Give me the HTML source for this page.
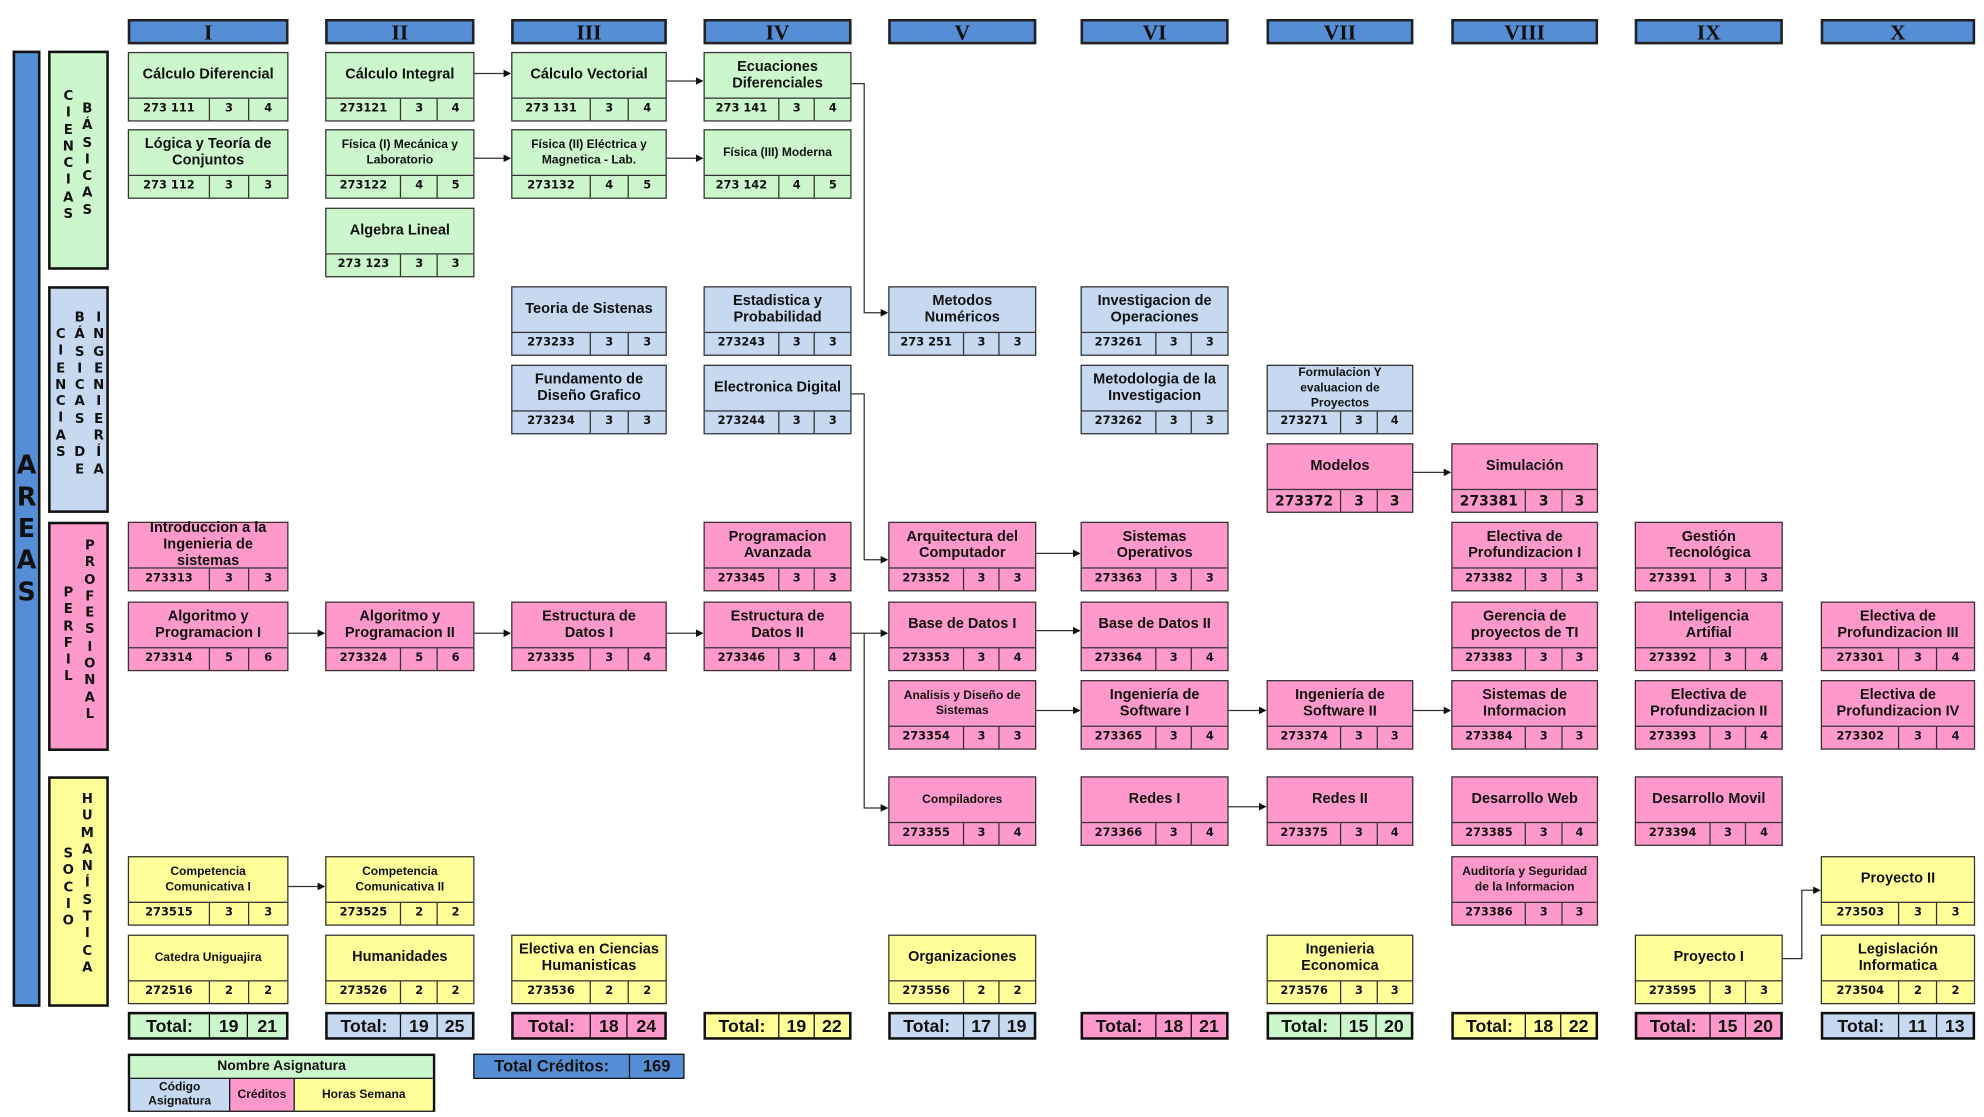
<!DOCTYPE html>
<html><head><meta charset="utf-8">
<style>
html,body{margin:0;padding:0;background:#fff;}
body{width:1984px;height:1117px;overflow:hidden;}
#w{position:absolute;left:0;top:0;width:1568px;height:882px;transform:scale(1.2653,1.2664);transform-origin:0 0;font-family:"Liberation Sans",sans-serif;font-weight:bold;color:#111;}
.h{position:absolute;top:15px;height:20px;background:#558ed5;border:2px solid #222;box-sizing:border-box;text-align:center;font-family:"Liberation Serif",serif;font-size:17px;line-height:17px;color:#111;}
.b{position:absolute;height:55px;border:1px solid #333;box-sizing:border-box;}
.t{height:36px;display:flex;align-items:center;justify-content:center;text-align:center;border-bottom:1px solid #333;font-size:11.5px;line-height:13px;padding:0 2px;box-sizing:border-box;}
.t.s{font-size:9.5px;line-height:12px;}
.r{display:flex;height:17px;font-size:9px;line-height:17px;font-family:"DejaVu Sans",sans-serif;}
.r span{flex:1;text-align:center;border-left:1px solid #333;}
.r span:first-child{flex:2.1;border-left:none;}
.g{background:#ccf7cc}.bl{background:#c6d9f0}.p{background:#ff99cc}.y{background:#ffff99}
.tot{position:absolute;top:799px;height:22px;border:2px solid #111;box-sizing:border-box;display:flex;font-size:14px;line-height:18px;}
.tot span{flex:1;text-align:center;border-left:1px solid #111;}
.tot span:first-child{flex:2.1;border-left:none;}
.ar{position:absolute;border:2px solid #111;box-sizing:border-box;}
.v{position:absolute;font-family:"DejaVu Sans",sans-serif;font-weight:bold;font-size:10.5px;line-height:13.3px;text-align:center;width:12px;}
</style></head><body><div id="w">

<div class="h" style="left:101px;width:127px">I</div>
<div class="h" style="left:257px;width:118px">II</div>
<div class="h" style="left:404px;width:123px">III</div>
<div class="h" style="left:556px;width:117px">IV</div>
<div class="h" style="left:702px;width:117px">V</div>
<div class="h" style="left:854px;width:117px">VI</div>
<div class="h" style="left:1001px;width:116px">VII</div>
<div class="h" style="left:1147px;width:116px">VIII</div>
<div class="h" style="left:1292px;width:117px">IX</div>
<div class="h" style="left:1439px;width:122px">X</div>

<div class="ar" style="left:10px;top:40px;width:22px;height:755px;background:#558ed5"></div>
<div class="v" style="left:12px;top:355px;width:18px;font-size:20px;line-height:25px;">A<br>R<br>E<br>A<br>S</div>

<div class="ar g" style="left:38px;top:40px;width:48px;height:173px"></div>
<div class="v" style="left:48px;top:70px">C<br>I<br>E<br>N<br>C<br>I<br>A<br>S</div>
<div class="v" style="left:63px;top:80px">B<br>Á<br>S<br>I<br>C<br>A<br>S</div>

<div class="ar bl" style="left:38px;top:226px;width:48px;height:179px"></div>
<div class="v" style="left:42px;top:258px">C<br>I<br>E<br>N<br>C<br>I<br>A<br>S</div>
<div class="v" style="left:57px;top:245px">B<br>Á<br>S<br>I<br>C<br>A<br>S<br>&nbsp;<br>D<br>E</div>
<div class="v" style="left:72px;top:245px">I<br>N<br>G<br>E<br>N<br>I<br>E<br>R<br>Í<br>A</div>

<div class="ar p" style="left:38px;top:412px;width:48px;height:181px"></div>
<div class="v" style="left:48px;top:462px">P<br>E<br>R<br>F<br>I<br>L</div>
<div class="v" style="left:65px;top:425px">P<br>R<br>O<br>F<br>E<br>S<br>I<br>O<br>N<br>A<br>L</div>

<div class="ar y" style="left:38px;top:613px;width:48px;height:182px"></div>
<div class="v" style="left:48px;top:668px">S<br>O<br>C<br>I<br>O</div>
<div class="v" style="left:63px;top:625px">H<br>U<br>M<br>A<br>N<br>Í<br>S<br>T<br>I<br>C<br>A</div>

<div class="b g" style="left:101px;top:41px;width:127px"><div class="t">Cálculo Diferencial</div><div class="r"><span>273 111</span><span>3</span><span>4</span></div></div>
<div class="b g" style="left:101px;top:102px;width:127px"><div class="t">Lógica y Teoría de Conjuntos</div><div class="r"><span>273 112</span><span>3</span><span>3</span></div></div>
<div class="b p" style="left:101px;top:412px;width:127px"><div class="t">Introduccion a la Ingenieria de sistemas</div><div class="r"><span>273313</span><span>3</span><span>3</span></div></div>
<div class="b p" style="left:101px;top:475px;width:127px"><div class="t">Algoritmo y<br>Programacion I</div><div class="r"><span>273314</span><span>5</span><span>6</span></div></div>
<div class="b y" style="left:101px;top:676px;width:127px"><div class="t s">Competencia<br>Comunicativa I</div><div class="r"><span>273515</span><span>3</span><span>3</span></div></div>
<div class="b y" style="left:101px;top:738px;width:127px"><div class="t s">Catedra Uniguajira</div><div class="r"><span>272516</span><span>2</span><span>2</span></div></div>

<div class="b g" style="left:257px;top:41px;width:118px"><div class="t">Cálculo Integral</div><div class="r"><span>273121</span><span>3</span><span>4</span></div></div>
<div class="b g" style="left:257px;top:102px;width:118px"><div class="t s">Física (I) Mecánica y Laboratorio</div><div class="r"><span>273122</span><span>4</span><span>5</span></div></div>
<div class="b g" style="left:257px;top:164px;width:118px"><div class="t">Algebra Lineal</div><div class="r"><span>273 123</span><span>3</span><span>3</span></div></div>
<div class="b p" style="left:257px;top:475px;width:118px"><div class="t">Algoritmo y<br>Programacion II</div><div class="r"><span>273324</span><span>5</span><span>6</span></div></div>
<div class="b y" style="left:257px;top:676px;width:118px"><div class="t s">Competencia<br>Comunicativa II</div><div class="r"><span>273525</span><span>2</span><span>2</span></div></div>
<div class="b y" style="left:257px;top:738px;width:118px"><div class="t">Humanidades</div><div class="r"><span>273526</span><span>2</span><span>2</span></div></div>

<div class="b g" style="left:404px;top:41px;width:123px"><div class="t">Cálculo Vectorial</div><div class="r"><span>273 131</span><span>3</span><span>4</span></div></div>
<div class="b g" style="left:404px;top:102px;width:123px"><div class="t s">Física (II) Eléctrica y Magnetica - Lab.</div><div class="r"><span>273132</span><span>4</span><span>5</span></div></div>
<div class="b bl" style="left:404px;top:226px;width:123px"><div class="t">Teoria de Sistenas</div><div class="r"><span>273233</span><span>3</span><span>3</span></div></div>
<div class="b bl" style="left:404px;top:288px;width:123px"><div class="t">Fundamento de<br>Diseño Grafico</div><div class="r"><span>273234</span><span>3</span><span>3</span></div></div>
<div class="b p" style="left:404px;top:475px;width:123px"><div class="t">Estructura de<br>Datos I</div><div class="r"><span>273335</span><span>3</span><span>4</span></div></div>
<div class="b y" style="left:404px;top:738px;width:123px"><div class="t">Electiva en Ciencias Humanisticas</div><div class="r"><span>273536</span><span>2</span><span>2</span></div></div>

<div class="b g" style="left:556px;top:41px;width:117px"><div class="t">Ecuaciones Diferenciales</div><div class="r"><span>273 141</span><span>3</span><span>4</span></div></div>
<div class="b g" style="left:556px;top:102px;width:117px"><div class="t s">Física (III) Moderna</div><div class="r"><span>273 142</span><span>4</span><span>5</span></div></div>
<div class="b bl" style="left:556px;top:226px;width:117px"><div class="t">Estadistica y Probabilidad</div><div class="r"><span>273243</span><span>3</span><span>3</span></div></div>
<div class="b bl" style="left:556px;top:288px;width:117px"><div class="t">Electronica Digital</div><div class="r"><span>273244</span><span>3</span><span>3</span></div></div>
<div class="b p" style="left:556px;top:412px;width:117px"><div class="t">Programacion<br>Avanzada</div><div class="r"><span>273345</span><span>3</span><span>3</span></div></div>
<div class="b p" style="left:556px;top:475px;width:117px"><div class="t">Estructura de<br>Datos II</div><div class="r"><span>273346</span><span>3</span><span>4</span></div></div>

<div class="b bl" style="left:702px;top:226px;width:117px"><div class="t">Metodos<br>Numéricos</div><div class="r"><span>273 251</span><span>3</span><span>3</span></div></div>
<div class="b p" style="left:702px;top:412px;width:117px"><div class="t">Arquitectura del Computador</div><div class="r"><span>273352</span><span>3</span><span>3</span></div></div>
<div class="b p" style="left:702px;top:475px;width:117px"><div class="t">Base de Datos I</div><div class="r"><span>273353</span><span>3</span><span>4</span></div></div>
<div class="b p" style="left:702px;top:537px;width:117px"><div class="t s">Analisis y Diseño de Sistemas</div><div class="r"><span>273354</span><span>3</span><span>3</span></div></div>
<div class="b p" style="left:702px;top:613px;width:117px"><div class="t s">Compiladores</div><div class="r"><span>273355</span><span>3</span><span>4</span></div></div>
<div class="b y" style="left:702px;top:738px;width:117px"><div class="t">Organizaciones</div><div class="r"><span>273556</span><span>2</span><span>2</span></div></div>

<div class="b bl" style="left:854px;top:226px;width:117px"><div class="t">Investigacion de Operaciones</div><div class="r"><span>273261</span><span>3</span><span>3</span></div></div>
<div class="b bl" style="left:854px;top:288px;width:117px"><div class="t">Metodologia de la Investigacion</div><div class="r"><span>273262</span><span>3</span><span>3</span></div></div>
<div class="b p" style="left:854px;top:412px;width:117px"><div class="t">Sistemas<br>Operativos</div><div class="r"><span>273363</span><span>3</span><span>3</span></div></div>
<div class="b p" style="left:854px;top:475px;width:117px"><div class="t">Base de Datos II</div><div class="r"><span>273364</span><span>3</span><span>4</span></div></div>
<div class="b p" style="left:854px;top:537px;width:117px"><div class="t">Ingeniería de<br>Software I</div><div class="r"><span>273365</span><span>3</span><span>4</span></div></div>
<div class="b p" style="left:854px;top:613px;width:117px"><div class="t">Redes I</div><div class="r"><span>273366</span><span>3</span><span>4</span></div></div>

<div class="b bl" style="left:1001px;top:288px;width:116px"><div class="t s">Formulacion Y evaluacion de Proyectos</div><div class="r"><span>273271</span><span>3</span><span>4</span></div></div>
<div class="b p" style="left:1001px;top:350px;width:116px"><div class="t">Modelos</div><div class="r" style="font-size:11px"><span>273372</span><span>3</span><span>3</span></div></div>
<div class="b p" style="left:1001px;top:537px;width:116px"><div class="t">Ingeniería de<br>Software II</div><div class="r"><span>273374</span><span>3</span><span>3</span></div></div>
<div class="b p" style="left:1001px;top:613px;width:116px"><div class="t">Redes II</div><div class="r"><span>273375</span><span>3</span><span>4</span></div></div>
<div class="b y" style="left:1001px;top:738px;width:116px"><div class="t">Ingenieria<br>Economica</div><div class="r"><span>273576</span><span>3</span><span>3</span></div></div>

<div class="b p" style="left:1147px;top:350px;width:116px"><div class="t">Simulación</div><div class="r" style="font-size:11px"><span>273381</span><span>3</span><span>3</span></div></div>
<div class="b p" style="left:1147px;top:412px;width:116px"><div class="t">Electiva de<br>Profundizacion I</div><div class="r"><span>273382</span><span>3</span><span>3</span></div></div>
<div class="b p" style="left:1147px;top:475px;width:116px"><div class="t">Gerencia de<br>proyectos de TI</div><div class="r"><span>273383</span><span>3</span><span>3</span></div></div>
<div class="b p" style="left:1147px;top:537px;width:116px"><div class="t">Sistemas de<br>Informacion</div><div class="r"><span>273384</span><span>3</span><span>3</span></div></div>
<div class="b p" style="left:1147px;top:613px;width:116px"><div class="t">Desarrollo Web</div><div class="r"><span>273385</span><span>3</span><span>4</span></div></div>
<div class="b p" style="left:1147px;top:676px;width:116px"><div class="t s">Auditoría y Seguridad de la Informacion</div><div class="r"><span>273386</span><span>3</span><span>3</span></div></div>

<div class="b p" style="left:1292px;top:412px;width:117px"><div class="t">Gestión<br>Tecnológica</div><div class="r"><span>273391</span><span>3</span><span>3</span></div></div>
<div class="b p" style="left:1292px;top:475px;width:117px"><div class="t">Inteligencia<br>Artifial</div><div class="r"><span>273392</span><span>3</span><span>4</span></div></div>
<div class="b p" style="left:1292px;top:537px;width:117px"><div class="t">Electiva de<br>Profundizacion II</div><div class="r"><span>273393</span><span>3</span><span>4</span></div></div>
<div class="b p" style="left:1292px;top:613px;width:117px"><div class="t">Desarrollo Movil</div><div class="r"><span>273394</span><span>3</span><span>4</span></div></div>
<div class="b y" style="left:1292px;top:738px;width:117px"><div class="t">Proyecto I</div><div class="r"><span>273595</span><span>3</span><span>3</span></div></div>

<div class="b p" style="left:1439px;top:475px;width:122px"><div class="t">Electiva de<br>Profundizacion III</div><div class="r"><span>273301</span><span>3</span><span>4</span></div></div>
<div class="b p" style="left:1439px;top:537px;width:122px"><div class="t">Electiva de<br>Profundizacion IV</div><div class="r"><span>273302</span><span>3</span><span>4</span></div></div>
<div class="b y" style="left:1439px;top:676px;width:122px"><div class="t">Proyecto II</div><div class="r"><span>273503</span><span>3</span><span>3</span></div></div>
<div class="b y" style="left:1439px;top:738px;width:122px"><div class="t">Legislación<br>Informatica</div><div class="r"><span>273504</span><span>2</span><span>2</span></div></div>

<div class="tot g" style="left:101px;width:127px"><span>Total:</span><span>19</span><span>21</span></div>
<div class="tot bl" style="left:257px;width:118px"><span>Total:</span><span>19</span><span>25</span></div>
<div class="tot p" style="left:404px;width:123px"><span>Total:</span><span>18</span><span>24</span></div>
<div class="tot y" style="left:556px;width:117px"><span>Total:</span><span>19</span><span>22</span></div>
<div class="tot bl" style="left:702px;width:117px"><span>Total:</span><span>17</span><span>19</span></div>
<div class="tot p" style="left:854px;width:117px"><span>Total:</span><span>18</span><span>21</span></div>
<div class="tot g" style="left:1001px;width:116px"><span>Total:</span><span>15</span><span>20</span></div>
<div class="tot y" style="left:1147px;width:116px"><span>Total:</span><span>18</span><span>22</span></div>
<div class="tot p" style="left:1292px;width:117px"><span>Total:</span><span>15</span><span>20</span></div>
<div class="tot bl" style="left:1439px;width:122px"><span>Total:</span><span>11</span><span>13</span></div>

<div style="position:absolute;left:101px;top:832px;width:243px;height:46px;border:2px solid #111;box-sizing:border-box;font-size:11px;">
 <div class="g" style="height:17px;line-height:17px;text-align:center;border-bottom:1px solid #111;">Nombre Asignatura</div>
 <div style="display:flex;height:25px;font-size:9.5px;">
  <div class="bl" style="width:78px;text-align:center;line-height:11px;padding-top:1px;">Código<br>Asignatura</div>
  <div class="p" style="width:50px;text-align:center;line-height:25px;border-left:1px solid #111;">Créditos</div>
  <div class="y" style="flex:1;text-align:center;line-height:25px;border-left:1px solid #111;">Horas Semana</div>
 </div>
</div>
<div style="position:absolute;left:374px;top:832px;width:167px;height:20px;border:1px solid #111;box-sizing:border-box;background:#558ed5;display:flex;font-size:13px;line-height:18px;">
 <span style="width:122px;text-align:center;border-right:1px solid #111;">Total Créditos:</span><span style="flex:1;text-align:center;">169</span>
</div>

<svg width="1568" height="882" style="position:absolute;left:0;top:0" fill="none" stroke="#333" stroke-width="1">
<defs><marker id="a" markerWidth="6" markerHeight="6" refX="5" refY="3" orient="auto"><path d="M0,0 L6,3 L0,6z" fill="#111" stroke="none"/></marker></defs>
<g marker-end="url(#a)">
<path d="M375,58 H403"/>
<path d="M527,64 H555"/>
<path d="M375,125 H403"/>
<path d="M527,125 H555"/>
<path d="M673,66 H683 V247 H701"/>
<path d="M673,311 H683 V442 H701"/>
<path d="M819,437 H853"/>
<path d="M1117,373 H1146"/>
<path d="M228,500 H256"/>
<path d="M375,500 H403"/>
<path d="M527,500 H555"/>
<path d="M673,500 H701"/>
<path d="M683,500 V638 H701"/>
<path d="M819,498 H853"/>
<path d="M819,561 H853"/>
<path d="M971,561 H1000"/>
<path d="M1117,561 H1146"/>
<path d="M971,637 H1000"/>
<path d="M228,700 H256"/>
<path d="M1409,757 H1424 V703 H1438"/>
</g>
</svg>
</div></body></html>
